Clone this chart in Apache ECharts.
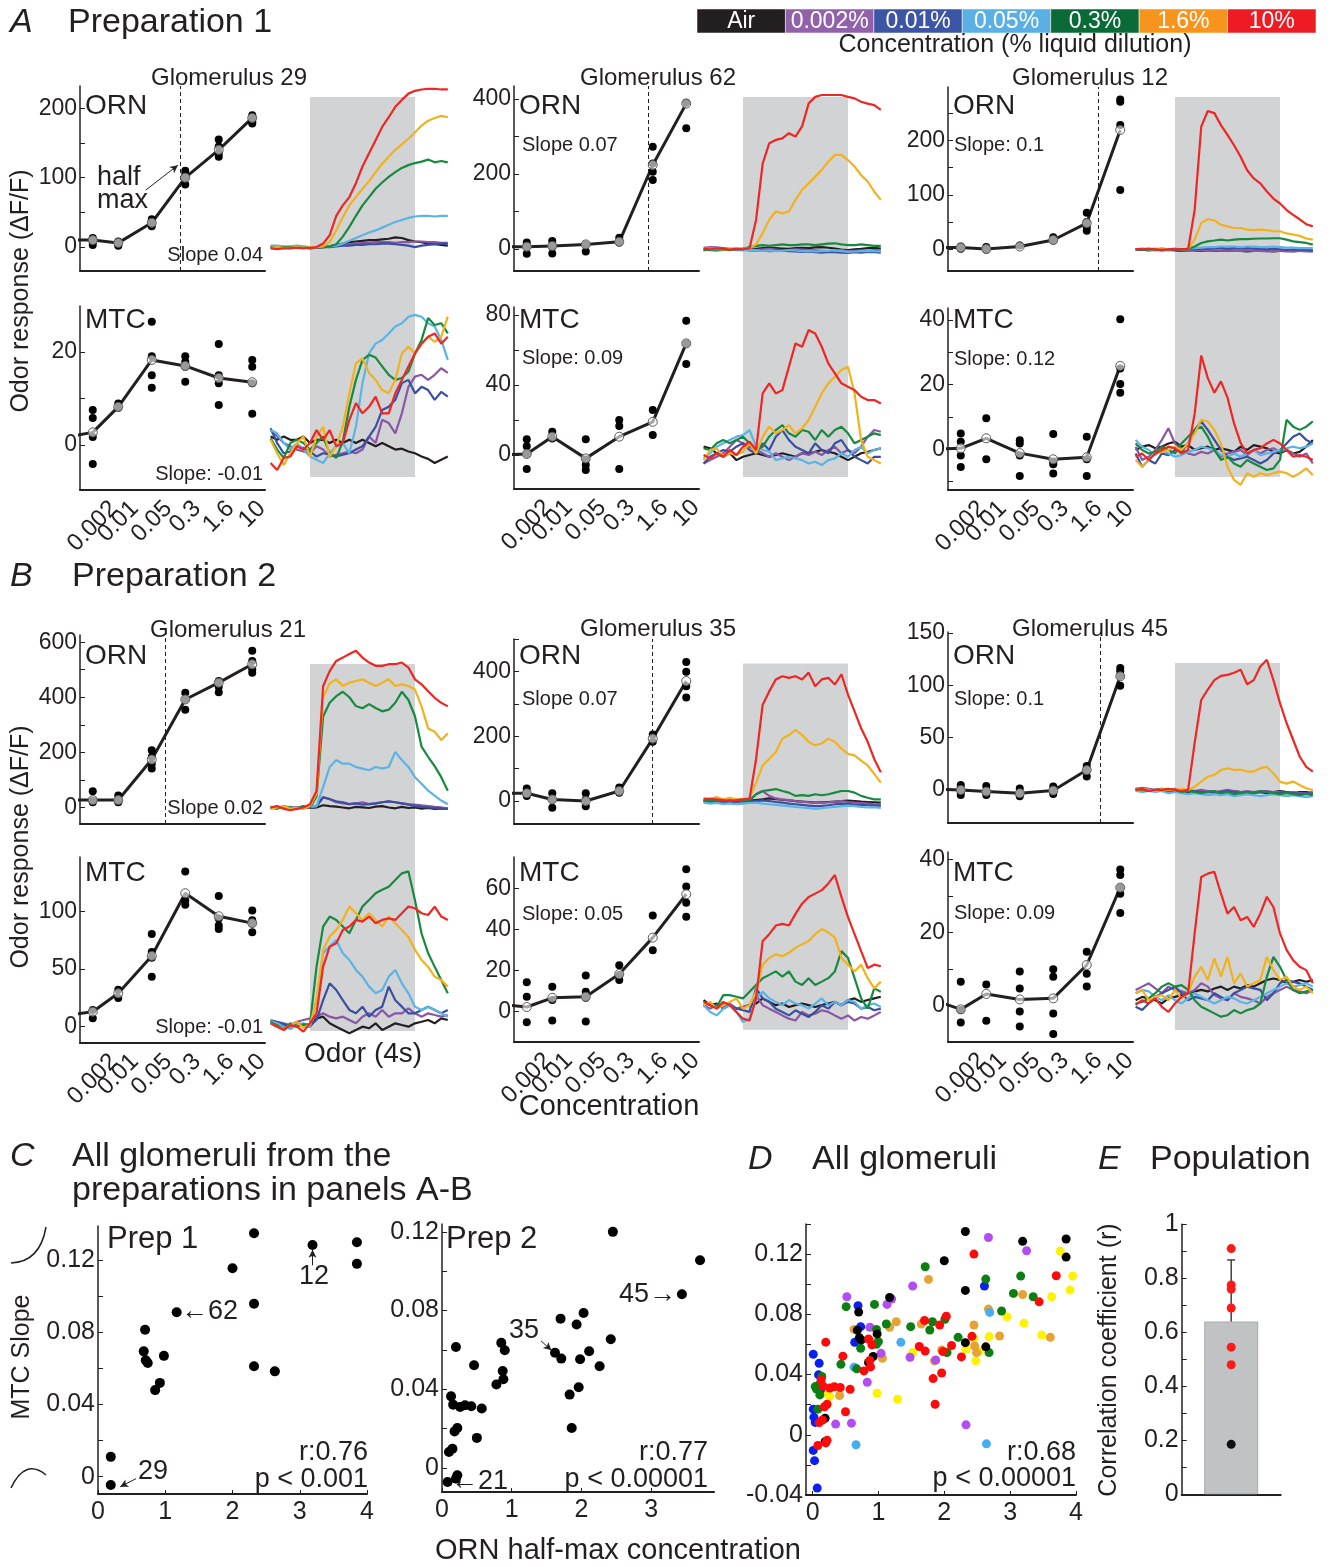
<!DOCTYPE html>
<html><head><meta charset="utf-8">
<script src="https://cdn.jsdelivr.net/npm/echarts@6/dist/echarts.min.js"></script>
<style>html,body{margin:0;padding:0;background:#fff}#c{width:1331px;height:1567px}</style>
</head><body><div id="c"></div>
<script>
// ---------------- DATA ----------------
const concLabels = ['0.002','0.01','0.05','0.3','1.6','10'];
const concX = [1, 1.8, 2.85, 3.9, 4.95, 6];
const airX = 0.2;
const timeS = [-1.5,-1.25,-1,-0.75,-0.5,-0.25,0,0.25,0.5,0.75,1,1.25,1.5,1.75,2,2.25,2.5,2.75,3,3.25,3.5,3.75,4,4.25,4.5,4.75,5,5.25];
const odorOn = 0, odorOff = 4;
const legendLabels = ['Air','0.002%','0.01%','0.05%','0.3%','1.6%','10%'];

// means: [air, 0.002, 0.01, 0.05, 0.3, 1.6, 10]
const a29OrnMean = [10,10,6,35,100,140,186];
const a29OrnTrials = [[13,8,3,10],[8,2,4],[40,30,35],[110,105,90,100],[155,135,130,145],[190,180,185,178]];
const a29MtcMean = [1.7,2.7,8.2,18.3,17,14.4,13.5];
const a29MtcTrials = [[7.5,5.8,1.7,-4.1],[8.9,8],[26.5,19.1,15,12.3],[19.1,17.9,16.8,13.6],[21.7,15,13.3,8.6],[18.3,16.8,13.3,6.7]];
const a62OrnMean = [5,6,8,12,19,224,388];
const a62OrnTrials = [[17,6,-13],[21,6,-12],[12,-7],[30,17],[273,228,206,184],[390,322]];
const a62MtcMean = [0,0.6,10.5,-1.9,10.5,19,63.8];
const a62MtcTrials = [[9,5,0.6,-8],[13.3,9.5],[9,-2.5,-5.7,-8.6],[20,16.6,-8],[25.7,11.4],[76.8,63.8,52]];
const a12OrnMean = [3,3,0.5,5,17,48,219];
const a12OrnTrials = [[5,1],[4,-1],[7],[22,16],[67,50,41,34],[275,271,228,109]];
const a12MtcMean = [0,0.3,3.4,-1.2,-3.1,-2.5,25.8];
const a12MtcTrials = [[4.9,2.3,-1.9,-5.5],[9.6,-3.1],[2.8,1.8,-1.9,-8.3],[4.7,-3.9,-4.6,-7.5],[3.9,-3.1,-8.3],[40.2,25,20.2,17.5]];
const b21OrnMean = [27,27,27,174,392,453,520];
const b21OrnTrials = [[59,25,19],[43,25,19],[208,183,159,141],[416,392,355],[459,438,418],[569,532,502,489]];
const b21MtcMean = [10,13,29,61.5,116,96,90];
const b21MtcTrials = [[14.5,7.3],[32,25],[80.6,65,60,43.5],[135,110,106],[113.6,94,88,85],[101,92.6,90,82]];
const b35OrnMean = [24,24,5,0,31,193,371];
const b35OrnTrials = [[38.6,26,15.7],[24,5,-21],[24,5,-16],[42,26],[206,183],[430,400,355,320]];
const b35MtcMean = [3.3,2.1,6.6,7.1,18.2,36,57.2];
const b35MtcTrials = [[14.2,7.1,-5.3],[12,5.5,-4.5],[17.5,9.5,6.6,-5],[22.5,17.8,15.3],[46.8,29.8],[69.4,61,53,46.2]];
const b45OrnMean = [0.6,0,-1.6,-3.2,-0.6,19,108.6];
const b45OrnTrials = [[4.8,1.5,-1.5,-4.8],[3.8,-1,-4.8],[1.5,-3.2,-6],[3.2,-1.6,-3.8],[22.9,19,12.8],[116.5,113.4,109,99.6]];
const b45MtcMean = [1.5,-0.9,3.3,1.8,2.1,11.2,32.3];
const b45MtcTrials = [[6.6,-1.1,-4.5],[5.9,-4],[9.4,4.8,-1.5,-5.6],[10,8,-2,-7.6],[14.8,8.8,5.3],[37.2,35.7,32.3,30.6,25.4]];

// traces, order: Air, 0.002, 0.01, 0.05, 0.3, 1.6, 10
const a29OrnTraces = [
 [0,0,0,0,0,0,-2,-1,0,1,3,5,7,8,9,10,10,11,12,14,13,10,8,7,5,4,3,2],
 [0,1,0,0,1,0,0,0,0,1,2,3,4,5,6,6,7,7,7,6,7,7,8,8,7,7,6,6],
 [0,0,-1,0,0,-1,-1,0,0,0,1,2,2,3,3,4,4,5,5,4,3,2,0,2,3,4,5,5],
 [2,2,1,1,2,1,0,0,1,1,2,5,9,13,17,21,24,28,32,36,39,42,44,45,45,44,45,45],
 [0,-1,0,0,0,-1,0,0,0,1,4,15,29,45,60,72,84,93,101,108,114,118,121,123,126,122,124,122],
 [-1,0,-1,-1,0,-1,0,0,1,7,24,43,60,72,84,95,108,120,130,140,148,156,165,175,182,186,189,187],
 [-2,-3,-2,-2,-1,-2,-1,0,5,17,45,60,72,92,116,135,154,173,187,202,212,221,225,227,228,228,227,227]];
const a29MtcTraces = [
 [1.8,1.1,1.8,1.1,1.1,1.8,0.4,1.1,1.1,0.4,1.1,0.4,1.1,0.4,1.1,0.4,-0.3,0.4,-0.3,-1,-0.8,-1.4,-1.8,-2.5,-3,-3.9,-3.2,-2.5],
 [3.2,1.8,0.4,-0.3,-1,-1.4,-1.8,-0.3,-1,-2.5,-2.1,-1.8,-1.4,-1.8,-1,1.8,0.4,5.4,4.7,2.5,6.8,12.5,14.7,15.1,14,15.1,16.5,15.5],
 [3.6,0.4,-1.8,-1.4,-0.3,-0.6,-1.4,-2.5,-1.8,-2.1,-2.5,-2.1,-1.8,-1,-0.3,1.8,3.9,7.5,8.2,9.7,13.3,14,11.1,12.5,11.8,9.7,11.4,10.4],
 [3.2,2.5,0.4,-1,0.4,-1,-2.5,-3.2,-3.9,-1.8,-0.3,0.4,-1.8,3.9,13.3,19.7,21.8,22.6,24,25.5,26.2,27.6,28,27.6,26.2,25.5,22.6,18.3],
 [1.4,-1,-2.8,0.4,1.1,0.4,-1,0.4,1.8,-1.8,-2.8,0.7,8.2,14,18.3,19.4,18.8,16.9,15.1,14,14.4,15.8,19.7,22.6,27.3,25.8,26.2,24],
 [1.1,-1.8,-4.3,-1.8,0.4,1.8,-2.5,1.8,3.9,-2.5,-0.3,3.9,11.1,17.6,18.6,15.5,14,11.8,11.1,14,19.7,21.1,19.7,21.8,23.3,22.2,23.3,27.6],
 [-3.9,-5.4,-2.8,-2.5,-0.3,-1,0.4,3.2,1.1,3.2,-0.3,0.4,5.4,9,6.8,8.2,10.4,6.8,6.8,11.1,14,16.9,19.7,21.8,23.3,24,21.8,23.3]];
const a62OrnTraces = [
 [-2,0,-1,0,-2,-1,0,-2,0,2,3,2,1,0,2,3,2,4,5,3,1,-2,-3,-1,0,2,3,1],
 [3,5,4,2,0,1,0,-2,-3,-1,0,-2,-4,-3,-1,-2,-3,-4,-5,-6,-4,-3,-6,-5,-4,-5,-3,-4],
 [-2,-3,-4,-2,-3,-1,-2,-4,-3,-4,-6,-5,-4,-6,-7,-8,-7,-9,-10,-8,-9,-10,-11,-9,-10,-8,-9,-10],
 [-3,-2,-4,-3,-2,-3,-4,-2,-3,-5,-4,-6,-5,-3,-4,-6,-5,-7,-6,-5,-4,-6,-8,-7,-6,-5,-6,-7],
 [-3,-2,-2,-1,-2,-1,0,5,8,10,8,10,12,10,10,12,12,10,12,14,15,12,10,10,12,10,8,8],
 [0,1,0,-1,0,1,0,2,12,42,78,100,95,100,131,158,175,193,211,233,251,251,237,220,197,180,153,131],
 [0,-1,1,0,-2,0,-1,2,78,228,282,291,295,309,300,327,388,406,411,411,411,411,406,402,393,388,384,371]];
const a62MtcTraces = [
 [4.8,3.8,1,-1,1,-2.9,-1,0,1,0,-1,0,1,0,-1,1,1,1.9,2.9,1.9,1,-1,-2.9,-1,1,1.9,2.9,3.8],
 [-4.8,-2.9,-1,1,4.8,8.6,6.7,4.8,2.9,1,-1,1,-1,-2.9,-1,1,0,1.9,0,2.9,4.8,1,2.9,1,4.8,10.5,14.3,13.3],
 [-4.8,-1,1,2.9,1.9,4.8,6.7,2.9,1,6.7,2.9,10.5,14.3,8.6,4.8,2.9,1,6.7,2.9,1,6.7,8.6,2.9,-1,-2.9,-4.8,-1,-1],
 [-1.9,1,4.8,6.7,8.6,10.5,11.4,14.3,4.8,2.9,1.9,-2.9,-1.9,-1,-1.9,-2.9,-4.8,-3.8,-5.7,-2.9,-1.9,1,-1,2.9,4.8,1,2.9,3.8],
 [3.8,2.9,6.7,8.6,6.7,8.6,10.5,6.7,2.9,4.8,10.5,14.3,17.1,12.4,10.5,14.3,13.3,8.6,14.3,10.5,14.3,16.2,12.4,6.7,8.6,10.5,12.4,11.4],
 [-2.9,2.9,3.8,-1,1,0,1.9,6.7,1,10.5,16.2,12.4,14.3,17.1,12.4,15.2,20,27.6,35.2,41,44.8,48.6,50.5,35.2,8.6,-1,-2.9,-4.8],
 [0,-1.9,1,-1,2.9,0,4.8,7.6,2.9,35.2,41,35.2,37.1,50.5,63.8,61.9,71.4,69.5,61.9,52.4,46.7,41,39,37.1,33.3,31.4,31.4,29.5]];
const a12OrnTraces = [
 [-1,-1,-2,-1,-2,-1,-2,-3,-2,-2,-3,-2,-3,-3,-2,-3,-3,-4,-3,-2,-3,-4,-3,-3,-4,-3,-3,-4],
 [-1,0,-1,-2,-1,-2,-1,-2,-2,-1,-2,-3,-2,-3,-2,-3,-3,-2,-3,-3,-4,-3,-3,-4,-3,-3,-4,-3],
 [0,-1,0,0,-1,0,-1,-1,0,0,1,1,2,2,1,2,1,2,1,1,0,1,0,-1,0,-1,-1,-2],
 [0,1,0,1,0,0,1,0,1,2,3,4,4,5,5,5,4,5,5,4,4,5,4,3,3,2,2,2],
 [0,0,-1,0,1,0,0,-1,0,5,11.5,14.5,16,17.6,16,17.6,18.6,18.6,19.2,19.7,19.7,20.2,20.2,17.6,14.5,13,11.5,8.4],
 [0,1,0,0,1,0,1,0,0,17.6,48,55,53,45,42,39,39,36,35,36,35,33,33,29,27,24.5,19.7,17.6],
 [0,0,1,0,-1,0,0,0,0,72,225,254,250,228,210,191,170,145,130,121,106,93,84,72,63,55,46,42]];
const a12MtcTraces = [
 [-0.2,0.8,1.3,0.3,0.8,1.8,2.3,0.8,1.3,-0.2,0.3,0.8,-0.2,0.3,-0.2,-0.8,0.8,-0.2,1.3,0.8,0.3,-0.8,-1.3,-0.2,-1.3,-0.8,0.8,2.9],
 [0.8,-3.3,-2.3,-0.2,2.9,6.5,1.8,-0.2,-1.3,-1.8,-0.8,-1.3,-0.2,-2.3,-1.3,-0.8,-0.2,-1.8,-0.2,-1.3,-0.2,0.3,-0.8,-0.2,-1.3,-2.3,-1.3,-4.4],
 [-1.3,-5.4,-3.3,-4.4,-1.3,-1.8,-0.2,-0.8,1.8,6,8.6,6,2.9,-0.2,-2.3,-3.3,-2.8,-2.3,-3.3,-4.4,-3.3,-1.3,-0.2,1.8,3.9,4.9,2.9,1.8],
 [2.9,0.8,-0.2,-1.8,-0.2,-1.3,-2.3,-1.8,-0.8,-0.2,0.8,0.3,-0.2,-1.8,-2.3,-1.3,-2.3,-1.3,-0.2,-1.8,-1.3,-0.8,-0.2,0.3,0.8,0.3,0.8,1.8],
 [1.8,-0.2,-1.3,-0.8,0.8,-0.2,-1.3,1.8,3.9,6,7,3.9,-0.2,-3.3,-2.3,-4.4,-5.4,-3.3,-4.4,-5.4,-6.4,-5.9,-3.3,9.1,7,6,7,8.6],
 [-3.3,-5.4,-3.3,-1.3,-0.8,-0.2,0.8,-0.2,1.8,4.9,9.1,8.6,6,1.8,-5.4,-9.5,-11,-7.4,-8.5,-7.4,-8,-7.4,-6.9,-7.4,-8.5,-7.4,-5.9,-8],
 [-2.3,-1.3,-3.3,-1.3,-0.2,0.8,0.3,-1.3,-0.2,11,29,22,17.5,21,16,8,2,-1.3,-0.2,0.3,1.8,2.9,1.8,-0.2,-2.3,-1.8,-2.3,-3.3]];
const b21OrnTraces = [
 [-3,0,2,-2,0,3,-2,0,8,5,3,0,-3,2,0,-2,3,5,0,-3,2,-2,0,-4,-2,-5,-3,-5],
 [0,3,-2,2,0,-3,0,5,37,31,19,15,12,15,19,12,15,19,22,19,15,12,10,8,5,2,0,-3],
 [0,-2,2,0,-3,1,0,5,37,30,22,19,12,15,10,12,15,19,22,19,15,10,5,2,0,-2,-3,-5],
 [2,0,-3,1,-2,0,2,5,74,147,172,159,159,147,141,135,147,141,147,202,172,147,110,86,61,43,25,12],
 [0,-5,5,0,-5,5,0,40,330,380,404,420,400,368,360,375,361,349,355,380,420,390,331,221,184,150,110,61],
 [-5,0,5,-5,0,-5,5,50,400,450,465,441,453,459,465,453,441,453,465,441,447,441,428,367,287,275,245,269],
 [0,5,-5,-10,-5,0,12,60,440,495,532,544,557,569,544,526,514,514,520,520,526,508,465,447,422,398,380,367]];
const b21MtcTraces = [
 [4.3,2.9,0,1.4,2.9,1.4,0,7.2,8.7,2.9,0,-2.9,-5.8,-2.9,0,-1.4,2.9,-2.9,0,2.9,1.4,0,2.9,4.3,5.8,2.9,7.2,5.8],
 [5.8,4.3,2.9,1.4,4.3,5.8,7.2,8.7,11.6,8.7,7.2,8.7,5.8,2.9,8.7,11.6,8.7,14.5,8.7,11.6,11.6,15.9,11.6,8.7,11.6,10.1,8.7,10.1],
 [5,4,2,0,3,2,1,5.8,23,37.7,31.9,23,14.5,11.6,17.4,8.7,14.5,17.4,34.8,23,17.4,11.6,11.6,14.5,17.4,14.5,11.6,14.5],
 [5,3,0,-2,1,3,0,23,63.8,69.6,75.4,63.8,58,49.3,43.5,34.8,29,31.9,43.5,49.3,37.7,29,17.4,14.5,17.4,14.5,11.6,8.7],
 [4,1,-2,3,0,2,2,52.2,87,95.7,92.8,87,81.2,92.8,104.4,110.2,116,119,121.7,127.5,133.3,135,110,81,64,52,40.6,29],
 [3,0,-2,1,4,-1,2,23,66.7,78.3,84.1,92.8,104.4,98.6,92.8,98.6,92.8,87,95.7,89.9,84,78,66.7,58,52,43.5,40.6,34.8],
 [2.9,0,-2.9,1.4,0,-4.3,2.9,11.6,52.2,69.6,72.5,84.1,87,92.8,91.3,95.7,89.9,92.8,94.2,92.8,98.6,104.4,102.9,98.6,97.1,104.4,95.7,92.8]];
const b35OrnTraces = [
 [2,0,3,1,-1,2,0,1,3,5,8,6,4,2,0,-2,-3,-5,-4,-3,-2,0,1,0,-2,-3,-4,-5],
 [0,2,-1,1,0,-2,1,2,21,31,16,8,5,3,0,-2,-4,-6,-5,-4,-2,0,-3,-5,-6,-8,-10,-11],
 [-2,-3,-1,-4,-2,-3,-1,-2,0,2,0,-3,-5,-8,-10,-12,-14,-16,-15,-13,-10,-8,-9,-11,-12,-13,-14,-15],
 [-5,-8,-6,-9,-7,-10,-8,-6,-5,-8,-10,-12,-14,-16,-18,-20,-22,-24,-22,-20,-18,-16,-14,-16,-18,-20,-19,-21],
 [2,3,1,2,3,2,1,3,21,31,34,37,31,26,16,18,16,21,18,21,26,31,31,26,16,10,5,5],
 [10,7,12,5,10,5,7,10,57,110,130,151,193,204,220,204,183,172,178,193,183,162,146,141,125,110,84,57],
 [5,7,5,3,0,3,5,7,130,298,339,376,386,381,386,376,397,355,376,381,360,392,329,277,225,183,130,89]];
const b35MtcTraces = [
 [5.5,3,3.8,1.3,3,1.3,2.1,3,3.8,6.3,4.6,3,3.8,2.1,3,3.8,3,2.1,3,3.8,4.6,3,5.5,6.3,4.6,5.5,6.3,7.1],
 [3,1.3,3,2.1,3.8,1.3,2.1,3,7.9,3,1.3,-0.3,-2,-3.6,-4.5,-0.3,-2,-1.2,0.5,-0.3,-2,-3.6,-2,-4.5,-2.8,-3.6,-2,-0.3],
 [4.6,3,2.1,3.8,3,1.3,0.5,-0.3,11.2,6.3,4.6,1.3,-0.3,-2,0.5,-1.2,-2.8,-0.3,3,1.3,4.6,3,4.6,3.8,1.3,2.1,0.5,1.3],
 [3,-0.3,-2,1.3,3,-0.3,-5.3,-3.6,6.3,9.6,6.3,4.6,3,5.5,3.8,3,1.3,3.8,6.3,3,4.6,3,5.5,4.6,1.3,3,3.8,2.1],
 [3,3.8,2.1,7.9,7.9,7.1,6.3,9.6,12.9,16.2,17.8,19.5,17,19.5,14.5,12.9,16.2,12.9,14.5,16.2,19.5,29.4,26.1,16.2,6.3,1.3,11.2,9.6],
 [3,4.6,1.3,3,4.6,6.3,1.3,3,9.6,22.8,26.1,27.8,26.9,28.6,31.1,32.7,34.4,37.7,40.2,38.5,36,26.1,22.8,19.5,22.8,16.2,11.2,14.5],
 [4.6,3,1.3,4.6,3,-0.3,-3.6,-4.5,6.3,34.4,37.7,41.9,42.7,41.9,47.6,52.6,55.9,57.5,59.2,62.5,66.6,55.9,46,37.7,29.4,21.2,22.8,22]];
const b45OrnTraces = [
 [0,-1,0,-1,0,-1,-2,-1,-2,-1,-2,-1,-2,-3,-2,-1,-2,-3,-2,-2,-3,-2,-1,-2,-3,-2,-2,-3],
 [1,2,1,0,1,0,1,-1,0,-1,0,-1,-2,-1,0,-1,-2,-1,-2,-1,-1,-2,-2,-3,-2,-3,-3,-2],
 [0,1,0,-1,0,-1,-1,-2,-1,-1,-2,-2,-3,-2,-1,-2,-3,-2,-3,-2,-2,-3,-3,-2,-3,-4,-3,-4],
 [-1,-2,-1,-2,-1,-3,-2,-3,-4,-3,-4,-5,-4,-5,-4,-6,-5,-4,-5,-6,-5,-4,-5,-6,-5,-6,-7,-6],
 [1,0,-1,0,1,-1,0,-2,-1,-2,-3,-2,-1,-3,-2,-4,-3,-2,-3,-1,-2,-3,-4,-3,-4,-5,-4,-5],
 [0,1,0,-1,1,0,0,1,0,3,8,12.8,14.4,19,20.8,19,19.5,17.6,17.6,20.8,22,16,8,6,8,4.8,1.6,0],
 [0,1,-1,0,0,1,0,-1,0,45,86,96,105,109,110,112,115,101,105,118,124.5,105,83,64,48,32,22,17.6]];
const b45MtcTraces = [
 [1.6,2.5,2.1,1.6,0.7,2.1,2.5,3,3.5,4,4.4,4,4.8,5.3,4.4,5.3,4.8,5.7,5.3,6.2,7.1,7.5,7.1,6.2,6.6,7.1,6.6,7.1],
 [4.4,5.3,6.2,4.8,3.5,5.3,4.4,4,3.5,4.4,6.2,5.3,3,2.1,1.6,3.5,2.5,2.1,1.6,0.7,2.5,3.5,4.4,5.3,4.4,4,3.5,4.4],
 [-0.2,-1.1,0.7,2.5,3.5,4.4,5.3,3.5,1.6,2.5,2.1,1.6,3.5,2.5,1.6,3.5,4.4,5.3,4.8,4.4,1.6,3.5,6.2,7.1,6.6,6.2,5.3,4.4],
 [3.5,4.4,4,2.5,1.6,3,1.6,0.7,2.1,3.5,2.5,1.6,0.7,1.6,2.5,2.1,1.1,0.7,1.6,2.5,3.5,4.4,5.3,6.2,5.3,5.7,6.2,5.3],
 [0.7,1.1,2.1,3.5,5.3,6.2,5.3,5.7,4.4,1.6,-0.2,-1.1,-2,-2.9,-2.5,-1.1,-2,-1.1,-0.6,0.7,8,13.4,10.7,7.1,4.4,3.5,4,4.4],
 [3.5,4.4,1.6,2.5,3,1.6,4.4,2.1,3.5,8,10.7,7.1,13,8,13.4,6.2,8.9,5.3,6.2,7.1,13.4,9.8,7.1,8,5.3,4.4,5.3,3.5],
 [0.3,1.6,0.7,2.1,-0.2,-1.6,0.7,2.5,3.5,19.8,35.2,36.1,36.6,30.7,25.2,27,23.4,24.3,21.6,25.2,29.8,27,19.8,15.3,12.5,10.7,9.8,6.2]];

// Panel C
const prep1X = [0.19,0.19,1.17,0.70,0.68,0.71,0.74,0.98,0.85,0.92,2.0,2.32,2.32,2.32,2.63,3.19,3.85,3.85];
const prep1Y = [0.011,-0.0046,0.0912,0.0815,0.0695,0.0645,0.063,0.067,0.048,0.052,0.1156,0.135,0.0959,0.0612,0.0584,0.1285,0.130,0.118];
const prep2X = [2.45,3.7,3.44,2.03,1.70,1.93,0.85,0.90,2.42,0.20,1.62,1.71,1.98,2.11,2.26,0.46,0.87,0.88,0.78,1.83,1.96,1.86,0.13,0.16,0.26,0.33,0.42,0.57,0.22,0.18,0.50,0.10,0.15,0.08,0.22,0.20];
const prep2Y = [0.120,0.1056,0.0883,0.0788,0.0759,0.0729,0.0636,0.0598,0.0654,0.0615,0.0586,0.0556,0.0553,0.0593,0.0517,0.0522,0.0493,0.0451,0.0424,0.0373,0.041,0.0203,0.0364,0.0322,0.031,0.0319,0.0314,0.0302,0.0203,0.0186,0.0153,0.0081,0.0098,-0.0071,-0.0037,-0.0054];
// Panel D (other preparations)
const dGreenX = [1.71,2.63,3.16,3.05,3.35,2.87,0.51,0.94,1.12,1.49,1.82,1.78,2.01,0.97,1.0,2.21,2.04,2.68,0.43,0.67,0.73,0.11,0.04,0.06,0.11,0.14,0.08,0.97];
const dGreenY = [0.1116,0.1034,0.1054,0.0939,0.0917,0.0822,0.0851,0.0866,0.0736,0.0718,0.0751,0.0696,0.0767,0.07,0.0619,0.0647,0.0546,0.0546,0.0468,0.0438,0.0575,0.0338,0.032,0.0303,0.0265,0.0387,0.017,0.0601];
const dPurpleX = [2.67,3.25,1.52,0.52,1.2,1.13,0.87,1.04,1.48,1.87,0.83,0.35,0.59,2.33];
const dPurpleY = [0.131,0.1222,0.0988,0.0917,0.0902,0.0866,0.0714,0.0541,0.0515,0.0497,0.0349,0.0071,0.0077,0.0066];
const dBlueX = [0.01,0.10,0.09,0.01,0.02,0.04,0.01,0.03,0.07,0.69,0.73,0.64,2.61,0.12];
const dBlueY = [0.0535,0.0475,0.0398,0.017,0.0117,0.0082,-0.0104,-0.0172,-0.0354,0.0857,0.0718,0.0614,0.0988,0.0298];
const dLightX = [1.34,0.63,2.69,0.66,2.64];
const dLightY = [0.0614,0.0449,0.0813,-0.0066,-0.006];
const dOrangeX = [1.76,3.19,2.67,1.27,1.17,0.63,1.65,2.45,2.84,3.61,1.96,2.46,1.85,1.06,0.41,2.49,0.92];
const dOrangeY = [0.1032,0.0932,0.0835,0.0751,0.0714,0.07,0.0736,0.0729,0.0656,0.0647,0.0563,0.059,0.0491,0.0508,0.0261,0.0546,0.0614];
const dYellowX = [3.76,3.95,3.91,3.63,2.95,3.21,3.48,2.68,2.45,2.33,2.53,2.48,2.05,1.52,0.98,1.29,0.26,0.23];
const dYellowY = [0.122,0.1054,0.0961,0.0917,0.0784,0.074,0.0663,0.0652,0.0641,0.0568,0.0552,0.0491,0.0552,0.0546,0.0276,0.0236,0.0254,0.027];
// Panel E
const eRed = [0.91,0.775,0.76,0.69,0.545,0.48];
const eBlack = [0.185];
const eMean = 0.64, eErr = 0.228;

// ---------------- BUILD ----------------
const FONT = '"Liberation Sans", Arial, Helvetica, sans-serif';
const INK = '#231f20';
const TC = ['#231f20','#8b56a5','#3a4fa1','#5bb4e5','#178a3f','#f2b21e','#ee2624'];
const LC = ['#231f20','#9161aa','#3c55a5','#5ab0e4','#0b6b38','#f7941d','#ed1c24'];
const grid=[], xAxis=[], yAxis=[], series=[], graphic=[];
function addGrid(l,t,w,h){grid.push({left:l,top:t,width:w,height:h,containLabel:false,outerBoundsMode:'none'});return grid.length-1;}
function addAxes(gi,xa,ya){xa.gridIndex=gi;ya.gridIndex=gi;return {x:xAxis.push(xa)-1,y:yAxis.push(ya)-1};}
const zip=(xs,ys)=>xs.map((x,i)=>[x,ys[i]]);

const XMIN=0.6, XMAX=6.4, RW=185;
const PXU = RW/(XMAX-XMIN);
const LFS = 24;
const mctx = document.createElement('canvas').getContext('2d');
mctx.font = LFS+'px "Liberation Sans"';
const labPos = concX.map((x,i)=>+(x + mctx.measureText(concLabels[i]).width/2*Math.SQRT1_2/PXU).toFixed(4));

const colL=[80,514,948], trL=[270.6,703.6,1135.6], TRW=177.2;
const rows={aO:{top:[86,86,87],bot:[271,271,271]},aM:{top:[306,307,308],bot:[490,489,490]},
            bO:{top:[635,639,632],bot:[824,824,823]},bM:{top:[857,857,852],bot:[1043,1042,1042]}};
const shadeRows=[{top:[97,97,97],bot:[477,477,477]},{top:[664,663.5,663],bot:[1031,1029.7,1030]}];

shadeRows.forEach(r=>[0,1,2].forEach(c=>{
  const gi=addGrid(trL[c],r.top[c],TRW,r.bot[c]-r.top[c]);
  const a=addAxes(gi,{type:'value',min:-1.5,max:5.25,show:false},{type:'value',min:0,max:1,show:false});
  series.push({type:'line',xAxisIndex:a.x,yAxisIndex:a.y,data:[],z:0,silent:true,
    markArea:{silent:true,itemStyle:{color:'#d1d3d4'},data:[[{xAxis:odorOn},{xAxis:odorOff}]]}});
}));

const panels=[
 [0,'aO',a29OrnMean,a29OrnTrials,a29OrnTraces,[-34.5,232],[0,50,100,150,200],[0,100,200],3.73],
 [0,'aM',a29MtcMean,a29MtcTrials,a29MtcTraces,[-9.7,29.9],[0,10,20],[0,20],null],
 [1,'aO',a62OrnMean,a62OrnTrials,a62OrnTraces,[-59,435],[0,100,200,300,400],[0,200,400],4.8],
 [1,'aM',a62MtcMean,a62MtcTrials,a62MtcTraces,[-19.4,84.6],[0,20,40,60,80],[0,40,80],null],
 [2,'aO',a12OrnMean,a12OrnTrials,a12OrnTraces,[-40,298],[0,50,100,150,200,250],[0,100,200],5.32],
 [2,'aM',a12MtcMean,a12MtcTrials,a12MtcTraces,[-12.6,43.7],[-10,0,10,20,30,40],[0,20,40],null],
 [0,'bO',b21OrnMean,b21OrnTrials,b21OrnTraces,[-60,626],[0,100,200,300,400,500,600],[0,200,400,600],3.27],
 [0,'bM',b21MtcMean,b21MtcTrials,b21MtcTraces,[-14.2,147.5],[0,50,100],[0,50,100],null],
 [1,'bO',b35OrnMean,b35OrnTrials,b35OrnTraces,[-71,501],[0,100,200,300,400,500],[0,200,400],4.92],
 [1,'bM',b35MtcMean,b35MtcTrials,b35MtcTraces,[-15,75.4],[0,20,40,60],[0,20,40,60],null],
 [2,'bO',b45OrnMean,b45OrnTrials,b45OrnTraces,[-31.6,151],[0,50,100,150],[0,50,100,150],5.37],
 [2,'bM',b45MtcMean,b45MtcTrials,b45MtcTraces,[-9.8,42],[0,10,20,30,40],[0,20,40],null]];

const pAx={};
panels.forEach(([c,row,mean,trials,traces,yr,ticks,labels,dash],pi)=>{
  const top=rows[row].top[c], bot=rows[row].bot[c];
  const showX = row==='aM'||row==='bM';
  const gi=addGrid(colL[c],top,RW,bot-top);
  const a=addAxes(gi,
    {type:'value',min:XMIN,max:XMAX,splitLine:{show:false},axisLine:{show:true,onZero:false,lineStyle:{color:INK,width:2}},axisTick:{show:false},axisLabel:{show:false}},
    {type:'value',min:yr[0],max:yr[1],splitLine:{show:false},axisLine:{show:true,onZero:false,lineStyle:{color:INK,width:1.5}},
     axisTick:{show:true,inside:true,length:5,customValues:ticks,lineStyle:{color:INK,width:1}},
     axisLabel:{show:true,customValues:labels,showMinLabel:true,showMaxLabel:true,margin:3,fontSize:23,color:INK,fontFamily:FONT}});
  pAx[pi]=a;
  if(showX){
    // one label per extra axis so no automatic overlap hiding
    concLabels.forEach((lab,i)=>xAxis.push({gridIndex:gi,type:'value',min:XMIN,max:XMAX,position:'bottom',offset:0,
      splitLine:{show:false},axisLine:{show:false},axisTick:{show:false},
      axisLabel:{show:true,customValues:[labPos[i]],rotate:45,margin:15,fontSize:LFS,color:INK,fontFamily:FONT,formatter:()=>lab}}));
  }
  const ln={type:'line',xAxisIndex:a.x,yAxisIndex:a.y,silent:true,showSymbol:false,z:3,
    data:[[airX,mean[0]],...concX.map((x,i)=>[x,mean[i+1]])],lineStyle:{color:INK,width:3}};
  if(dash!=null) ln.markLine={silent:true,symbol:['none','none'],label:{show:false},
    lineStyle:{type:[4,3],color:INK,width:1},data:[{xAxis:dash}]};
  series.push(ln);
  const dots=[]; trials.forEach((arr,i)=>arr.forEach(v=>dots.push([concX[i],v])));
  series.push({type:'scatter',xAxisIndex:a.x,yAxisIndex:a.y,silent:true,data:dots,symbolSize:8,itemStyle:{color:'#000',opacity:1},z:4});
  series.push({type:'scatter',xAxisIndex:a.x,yAxisIndex:a.y,silent:true,data:concX.map((x,i)=>[x,mean[i+1]]),
    symbolSize:9,itemStyle:{color:'rgba(255,255,255,0.6)',borderColor:'#58595b',borderWidth:1,opacity:1},z:5});
  const tg=addGrid(trL[c],top,TRW,bot-top);
  const t=addAxes(tg,{type:'value',min:-1.5,max:5.25,show:false},{type:'value',min:yr[0],max:yr[1],show:false});
  traces.forEach((arr,k)=>series.push({type:'line',xAxisIndex:t.x,yAxisIndex:t.y,silent:true,showSymbol:false,
    data:zip(timeS,arr),lineStyle:{color:TC[k],width:2.2},z:2}));
});

function addArrow(a,from,to){
  series.push({type:'line',xAxisIndex:a.x,yAxisIndex:a.y,data:[],silent:true,z:6,
    markLine:{silent:true,symbol:['none','arrow'],symbolSize:[6,8],label:{show:false},
      lineStyle:{type:'solid',color:INK,width:1},data:[[{coord:from},{coord:to}]]}});
}
addArrow(pAx[0],[2.66,82],[3.67,118]);

function scat(o){
  const gi=addGrid(o.left,o.top,o.w,o.h);
  return addAxes(gi,
    {type:'value',min:o.x[0],max:o.x[1],splitLine:{show:false},
     axisLine:{show:true,onZero:false,lineStyle:{color:INK,width:2}},
     axisTick:{show:true,inside:true,length:4,customValues:o.xl,lineStyle:{color:INK}},
     axisLabel:{show:true,customValues:o.xl,showMinLabel:true,showMaxLabel:true,margin:6,fontSize:25,color:INK,fontFamily:FONT}},
    {type:'value',min:o.y[0],max:o.y[1],splitLine:{show:false},
     axisLine:{show:true,onZero:false,lineStyle:{color:INK,width:1.5}},
     axisTick:{show:true,inside:true,length:5,customValues:o.yt,lineStyle:{color:INK}},
     axisLabel:{show:true,customValues:o.yl,showMinLabel:true,showMaxLabel:true,margin:3,fontSize:25,color:INK,fontFamily:FONT,formatter:v=>String(v)}});
}
const aC1=scat({left:98,top:1226,w:269,h:268,x:[0,4],y:[-0.0096,0.139],xl:[0,1,2,3,4],yt:[0,0.02,0.04,0.06,0.08,0.1,0.12],yl:[0,0.04,0.08,0.12]});
series.push({type:'scatter',xAxisIndex:aC1.x,yAxisIndex:aC1.y,silent:true,data:zip(prep1X,prep1Y),symbolSize:10,itemStyle:{color:'#000',opacity:1}});
addArrow(aC1,[0.565,-0.0011],[0.33,-0.0056]);
addArrow(aC1,[3.19,0.1172],[3.19,0.1258]);
const aC2=scat({left:442,top:1224,w:272,h:268,x:[0,3.9],y:[-0.0122,0.124],xl:[0,1,2,3],yt:[0,0.02,0.04,0.06,0.08,0.1,0.12],yl:[0,0.04,0.08,0.12]});
series.push({type:'scatter',xAxisIndex:aC2.x,yAxisIndex:aC2.y,silent:true,data:zip(prep2X,prep2Y),symbolSize:10,itemStyle:{color:'#000',opacity:1}});
addArrow(aC2,[1.42,0.0646],[1.57,0.0598]);

const aD=scat({left:806,top:1224,w:270,h:271,x:[-0.1,4],y:[-0.04,0.14],xl:[0,1,2,3,4],yt:[-0.04,-0.02,0,0.02,0.04,0.06,0.08,0.1,0.12,0.14],yl:[-0.04,0,0.04,0.08,0.12]});
[[dYellowX,dYellowY,'#fff200'],[dOrangeX,dOrangeY,'#e6a232'],[dPurpleX,dPurpleY,'#b24df2'],[dLightX,dLightY,'#45aef0'],
 [dBlueX,dBlueY,'#0b1fee'],[dGreenX,dGreenY,'#0d7f12'],[prep1X,prep1Y,'#000000'],[prep2X,prep2Y,'#ff0a0a']].forEach(([xs,ys,col])=>
  series.push({type:'scatter',xAxisIndex:aD.x,yAxisIndex:aD.y,silent:true,data:zip(xs,ys),symbolSize:9,itemStyle:{color:col,opacity:1}}));

const gE=addGrid(1181.7,1224.3,99,270);
const aE=addAxes(gE,
  {type:'category',data:['r'],boundaryGap:true,axisLine:{show:true,onZero:false,lineStyle:{color:INK,width:2}},axisTick:{show:false},axisLabel:{show:false}},
  {type:'value',min:0,max:1,splitLine:{show:false},axisLine:{show:true,onZero:false,lineStyle:{color:INK,width:1.5}},
   axisTick:{show:true,inside:true,length:5,customValues:[0,0.1,0.2,0.3,0.4,0.5,0.6,0.7,0.8,0.9,1],lineStyle:{color:INK}},
   axisLabel:{show:true,customValues:[0,0.2,0.4,0.6,0.8,1],showMinLabel:true,showMaxLabel:true,margin:3,fontSize:25,color:INK,fontFamily:FONT,formatter:v=>String(v)}});
series.push({type:'bar',xAxisIndex:aE.x,yAxisIndex:aE.y,silent:true,data:[eMean],barWidth:54,itemStyle:{color:'#c1c2c4',borderColor:'#a7a9ac',borderWidth:1},z:2});
series.push({type:'custom',xAxisIndex:aE.x,yAxisIndex:aE.y,silent:true,data:[[0,eMean,eErr]],z:3,
  renderItem:(p,api)=>{const b=api.coord([api.value(0),api.value(1)]);const t=api.coord([api.value(0),api.value(1)+api.value(2)]);
    return {type:'group',children:[
      {type:'line',shape:{x1:b[0],y1:b[1],x2:t[0],y2:t[1]},style:{stroke:'#414042',lineWidth:1.5}},
      {type:'line',shape:{x1:t[0]-4,y1:t[1],x2:t[0]+4,y2:t[1]},style:{stroke:'#414042',lineWidth:1.5}}]};}});
series.push({type:'scatter',xAxisIndex:aE.x,yAxisIndex:aE.y,silent:true,data:eRed.map(v=>[0,v]),symbolSize:9,itemStyle:{color:'#ff1a1a',opacity:1},z:4});
series.push({type:'scatter',xAxisIndex:aE.x,yAxisIndex:aE.y,silent:true,data:eBlack.map(v=>[0,v]),symbolSize:9,itemStyle:{color:'#111',opacity:1},z:4});

// ---------------- TEXT ----------------
function txt(t,x,y,size,o){o=o||{};
  graphic.push({type:'text',x:x,y:y,rotation:o.rot||0,z:100,silent:true,
    style:{text:t,x:0,y:0,fontSize:size,fontFamily:FONT,fontStyle:o.italic?'italic':'normal',fill:o.fill||INK,
      align:o.align||'left',verticalAlign:'middle',textAlign:o.align||'left',textVerticalAlign:'middle'}});}
legendLabels.forEach((s,i)=>{
  graphic.push({type:'rect',silent:true,z:90,shape:{x:697+i*88.43,y:9,width:88.43,height:24},style:{fill:LC[i],stroke:'#fff',lineWidth:0.5}});
  txt(s,697+i*88.43+44.2,21.5,23,{align:'center',fill:'#ffffff'});
});
txt('Concentration (% liquid dilution)',1015,45,25,{align:'center'});
txt('A',10,23,34,{italic:true}); txt('Preparation 1',68,23,34);
txt('B',10,577,34,{italic:true}); txt('Preparation 2',72,577,34);
txt('C',10,1157,34,{italic:true}); txt('All glomeruli from the',72,1157,34); txt('preparations in panels A-B',72,1191,34);
txt('D',748,1160,34,{italic:true}); txt('All glomeruli',812,1160,34);
txt('E',1098,1160,34,{italic:true}); txt('Population',1150,1160,34);
[['Glomerulus 29',229,78],['Glomerulus 62',658,78],['Glomerulus 12',1090,78],
 ['Glomerulus 21',228,630],['Glomerulus 35',658,629],['Glomerulus 45',1090,629]].forEach(a=>txt(a[0],a[1],a[2],24,{align:'center'}));
[85,519,953].forEach(x=>{txt('ORN',x,106,28);txt('MTC',x,320,28);txt('ORN',x,656,28);txt('MTC',x,873,28);});
txt('Slope 0.04',263,255,20,{align:'right'}); txt('Slope: -0.01',263,474,20,{align:'right'});
txt('Slope 0.07',522,145,20); txt('Slope: 0.09',522,358,20);
txt('Slope: 0.1',954,145,20); txt('Slope: 0.12',954,359,20);
txt('Slope 0.02',263,808,20,{align:'right'}); txt('Slope: -0.01',263,1027,20,{align:'right'});
txt('Slope 0.07',522,699,20); txt('Slope: 0.05',522,914,20);
txt('Slope: 0.1',954,699,20); txt('Slope: 0.09',954,913,20);
txt('half',97,178,27); txt('max',97,201,27);
txt('Odor response (\u0394F/F)',21,291,25,{align:'center',rot:Math.PI/2});
txt('Odor response (\u0394F/F)',21,847,25,{align:'center',rot:Math.PI/2});
txt('Odor (4s)',363,1054,28,{align:'center'});
txt('Concentration',609,1107,29,{align:'center'});
txt('ORN half-max concentration',618,1551,29,{align:'center'});
txt('MTC Slope',22,1357,25,{align:'center',rot:Math.PI/2});
txt('Correlation coefficient (r)',1109,1360,25,{align:'center',rot:Math.PI/2});
txt('Prep 1',107,1239,31); txt('Prep 2',446,1239,31);
txt('29',138,1472,27); txt('\u219062',181,1312,27); txt('12',314,1277,27,{align:'center'});
txt('r:0.76',368,1453,27,{align:'right'}); txt('p < 0.001',368,1480,27,{align:'right'});
txt('45\u2192',676,1295,27,{align:'right'}); txt('35',509,1331,27); txt('\u219021',451,1482,27);
txt('r:0.77',708,1453,27,{align:'right'}); txt('p < 0.00001',708,1480,27,{align:'right'});
txt('r:0.68',1076,1453,27,{align:'right'}); txt('p < 0.00001',1076,1479,27,{align:'right'});
graphic.push({type:'bezierCurve',silent:true,z:100,shape:{x1:11,y1:1263,x2:46,y2:1227,cpx1:40,cpy1:1262},style:{stroke:INK,lineWidth:1.5,fill:null}});
graphic.push({type:'bezierCurve',silent:true,z:100,shape:{x1:11,y1:1488,x2:46,y2:1475,cpx1:25,cpy1:1458},style:{stroke:INK,lineWidth:1.5,fill:null}});

const chart=echarts.init(document.getElementById('c'),null,{renderer:'canvas'});
chart.setOption({backgroundColor:'#ffffff',animation:false,textStyle:{fontFamily:FONT},
  grid,xAxis,yAxis,series,graphic});
</script></body></html>
